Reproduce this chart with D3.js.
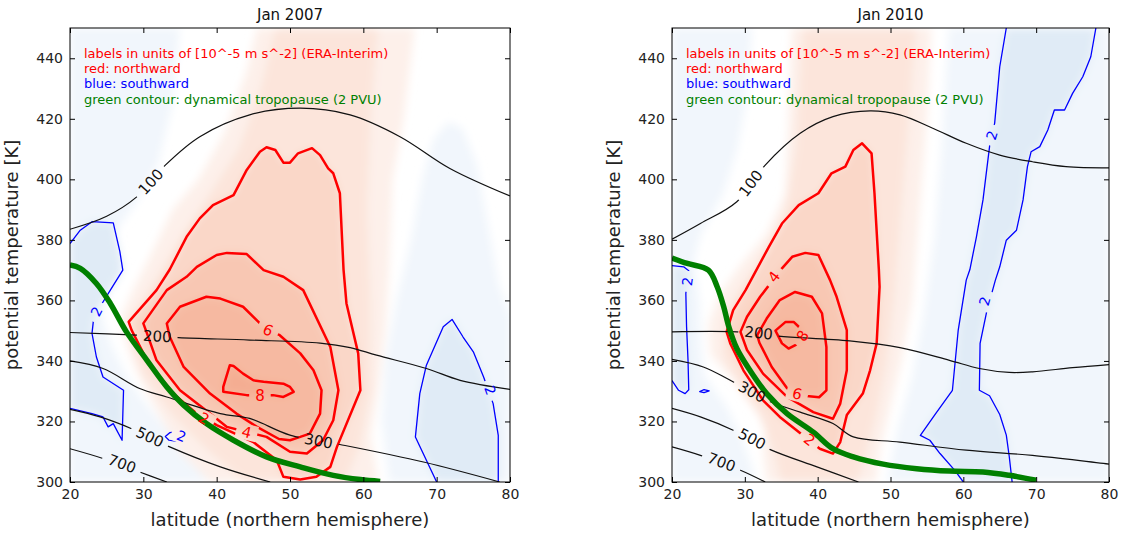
<!DOCTYPE html>
<html>
<head>
<meta charset="utf-8">
<script src="https://cdn.jsdelivr.net/npm/d3@7"></script>
<style>
  body { margin: 0; background: #fff; }
  svg { display: block; font-family: "DejaVu Sans", sans-serif; }
</style>
</head>
<body>
<svg id="chart" width="1126" height="533"></svg>
<script>
// ---------------------------------------------------------------
// Axes, titles and annotation text
// ---------------------------------------------------------------
const latTicks = [20, 30, 40, 50, 60, 70, 80];
const thetaTicks = [300, 320, 340, 360, 380, 400, 420, 440];
const latDomain = [20, 80];
const thetaDomain = [300, 450];
const titles = ["Jan 2007", "Jan 2010"];
const xLabel = "latitude (northern hemisphere)";
const yLabel = "potential temperature [K]";
const noteLines = [
  ["labels in units of [10^-5 m s^-2] (ERA-Interim)", "north"],
  ["red: northward", "north"],
  ["blue: southward", "south"],
  ["green contour: dynamical tropopause (2 PVU)", "tropo"]
];

// ---------------------------------------------------------------
// Jan 2007 — [latitude, theta] vertices
// ---------------------------------------------------------------
const tropopause2007 = [[20,371.7],[21.4,370.6],[23.6,365.6],[25.5,359.0],[27.7,349.6],[30.5,340.2],[33.2,331.4],[35.5,325.4],[38.6,319.3],[42.3,313.8],[46.8,308.3],[51.4,305.0],[55.9,302.2],[59.6,300.8],[62.3,300.2]];

// pressure isolines [hPa]
const isobar100_2007 = [[20,383.5],[25,387.8],[29.1,394.2],[33.0,404.7],[37.7,414.1],[44.5,421.3],[51.4,423.5],[58.2,421.3],[65,414.1],[71.8,403.6],[80,394.5]];
const isobar200_2007 = [[20,349.4],[29.1,348.5],[34.8,347.7],[44.5,346.9],[54.1,345.9],[58.2,344.4],[61.8,341.9],[68.6,337.5],[73.2,333.6],[80,330.6]];
const isobar300_2007 = [[20,340.0],[24.5,337.5],[29.5,330.9],[33.2,328.1],[40.5,322.6],[44.5,321.0],[50.0,315.5],[56.8,312.4],[68.2,306.6],[78.6,300]];
const isobar500_2007 = [[20,324.0],[24.1,321.5],[28.4,317.6],[33.6,311.6],[40.5,305.0],[47.3,300]];
const isobar700_2007 = [[20,311.0],[24.6,307.7],[29.5,303.3],[33.2,300]];

// northward contours (closed)
const north2_2007 = [[40.0,318.8],[45.0,313.2],[48.2,307.2],[49.1,301.7],[51.4,300.8],[53.6,301.7],[55.5,305.0],[56.4,311.6],[59.6,330.3],[59.3,342.5],[57.7,359.0],[57.3,370.2],[56.8,395.4],[55.9,402.0],[55.2,403.6],[54.1,408.0],[53.0,410.3],[51.1,408.6],[50.0,405.5],[49.1,405.5],[48.0,409.7],[46.8,410.6],[45.9,409.1],[44.1,403.1],[42.3,394.8],[39.5,391.5],[37.7,387.1],[35.9,381.0],[33.6,370.2],[31.8,363.4],[28.0,352.9],[28.4,350.2],[30.5,340.2],[34.1,329.2],[37.3,322.6]];
const north4_2007 = [[37.3,371.1],[40.0,375.0],[41.4,375.7],[44.1,375.3],[46.4,370.0],[49.1,367.8],[51.8,363.4],[55.5,344.6],[56.6,330.3],[55.9,320.4],[54.5,313.8],[52.3,309.4],[50.0,310.0],[46.8,314.9],[44.1,316.5],[41.4,318.2],[39.1,322.6],[35.0,330.3],[31.8,340.2],[30.5,349.1],[30.0,352.4],[33.2,363.4],[35.9,367.8]];
const north6_2007 = [[47.0,350.2],[48.6,348.5],[51.4,342.5],[53.2,336.9],[54.3,330.3],[54.1,322.6],[52.7,316.0],[51.4,314.9],[50.0,313.8],[48.5,314.2],[45.5,318.2],[42.7,322.6],[39.1,329.2],[35.5,338.0],[33.6,348.0],[33.2,352.4],[35.0,357.9],[38.6,361.2],[40.5,360.6],[43.6,357.9],[45.9,352.4]];
const north8_2007 = [[41.8,338.6],[40.9,331.4],[40.9,329.8],[44.1,328.7],[45.9,328.7],[47.7,328.7],[49.1,328.1],[50.5,329.8],[50.0,331.4],[49.1,332.5],[46.4,333.1],[45.0,333.6],[43.6,335.8],[42.3,338.3]];

// southward contours
const southWest_2007 = [[20,378.8],[21.4,383.2],[23.0,386.0],[25.9,385.6],[26.8,376.1],[27.2,370.0],[25.5,363.4],[24.1,357.9],[23.2,353.5],[23.0,349.1],[23.6,341.3],[24.5,334.7],[27.3,330.3],[27.1,313.8],[25.9,319.3],[25.2,318.2],[24.5,321.5],[23.0,322.6],[20,324.3]];
const southSmall_2007 = [[33.0,315.0],[33.5,313.8],[34.6,313.4],[35.8,314.0],[35.9,315.6],[34.8,316.6],[33.6,316.3]];
const southEast_2007 = [[70.0,300],[67.1,314.9],[67.7,329.2],[68.6,338.6],[70.9,351.3],[72.1,353.7],[73.6,347.9],[75.0,343.0],[76.4,334.7],[77.7,325.9],[78.4,315.4],[78.4,300]];

// outer edges of the weak shading
const northWeak_2007 = [[45.5,450],[67,450],[65.5,420],[64,400],[63.5,370],[63,350],[62,330],[61,315],[62,300],[39,300],[35,310],[31.5,325],[29,337],[27.5,347],[27,355],[28.5,363],[31,375],[34,390],[37.5,400],[41,415],[44,435]];
const northOne_2007 = [[48,450],[62,450],[61,420],[60.5,390],[61,360],[61,330],[59.5,312],[57.5,300],[44,300],[39,310],[34,322],[30,335],[28.5,345],[29,356],[31.5,366],[35,380],[39,395],[43,410],[46,430]];
const southWeakWest_2007 = [[20,300],[20,450],[35,450],[34,425],[32,405],[29,392],[26,382],[24.5,370],[24,358],[25.5,346],[27.5,336],[30,327],[33,318],[36,309],[39,300]];
const southWeakEast_2007 = [[63.5,300],[62.5,320],[63,340],[64.5,360],[66.5,380],[68,400],[69.5,413],[71.5,419],[73.5,417],[75.5,405],[77,385],[78.5,365],[80,355],[80,300]];

// ---------------------------------------------------------------
// Jan 2010
// ---------------------------------------------------------------
const tropopause2010 = [[20,374.0],[22.1,372.2],[25.0,370.0],[26.2,364.5],[27.1,357.9],[27.8,351.3],[28.9,344.1],[30.7,336.9],[33.0,329.2],[35.8,322.6],[39.4,316.5],[42.1,311.0],[44.9,308.3],[49.0,305.9],[53.6,304.4],[58.1,303.6],[62.7,303.3],[66.3,302.2],[70.0,300.6]];

const isobar100_2010 = [[20,380.2],[23.9,385.4],[28.9,392.6],[32.8,404.7],[37.6,415.2],[42.1,420.7],[47.2,422.6],[51.3,421.3],[55.8,416.9],[60.4,411.9],[65.0,408.0],[69.5,405.8],[74.1,404.2],[80,403.8]];
const isobar200_2010 = [[20,349.6],[28.9,349.6],[34.6,348.2],[44.4,346.6],[51.3,344.4],[58.1,340.2],[62.2,337.5],[66.3,336.2],[69.5,336.4],[75.0,337.8],[80,338.8]];
const isobar300_2010 = [[20,340.5],[24.3,338.0],[28,333.6],[33.5,326.5],[37.6,323.1],[42.1,319.3],[44.9,314.9],[51.3,313.2],[60.4,310.5],[69.5,308.8],[80,305.9]];
const isobar500_2010 = [[20,324.3],[23.9,321.5],[28.4,317.1],[33.5,310.7],[39.9,305.0],[45.6,300]];
const isobar700_2010 = [[20,311.6],[23.9,308.8],[29.4,303.9],[32.8,300]];

const north2_2010 = [[40.3,311.0],[42.1,309.4],[43.1,313.2],[44.0,322.1],[46.2,329.2],[47.2,336.9],[48.1,345.8],[48.5,364.5],[48.4,370.2],[47.8,395.4],[47.4,408.6],[46.1,411.9],[44.9,409.7],[43.8,404.2],[41.9,402.0],[40.1,395.4],[37.4,391.5],[35.1,385.4],[33.3,377.7],[30.1,363.4],[28.4,356.8],[27.5,349.6],[28.0,345.8],[29.8,336.9],[32.5,327.0],[34.8,321.5],[37.1,317.1]];
const north4_2010 = [[35.1,370.6],[32.1,361.2],[30.3,354.6],[29.4,349.6],[30.3,343.6],[32.5,335.8],[35.8,328.1],[39.4,323.1],[42.1,320.9],[43.1,325.9],[44.0,336.9],[44.0,350.2],[42.6,361.2],[41.7,366.7],[40.1,375.0],[38.3,375.7],[36.5,374.4]];
const north6_2010 = [[34.8,360.1],[36.9,362.8],[39.2,361.2],[40.6,355.7],[41.2,344.6],[41.2,330.3],[40.2,328.0],[38.5,328.4],[37.2,329.2],[35.8,331.0],[33.7,338.0],[32.0,346.0],[31.7,348.5],[33.0,354.0]];
const north8_2010 = [[34.2,350.0],[35.6,352.9],[36.7,352.9],[37.4,351.3],[37.9,348.5],[37.0,345.3],[36.0,344.1],[35.1,345.8]];

const southWest_2010 = [[20,371.5],[21.6,371.1],[22.3,369.8],[22.1,366.1],[21.9,362.3],[22.0,351.3],[22.2,340.2],[22.3,330.5],[21.8,329.2],[20.9,330.3],[20,333.5]];
const southSmall_2010 = [[23.8,329.9],[24.4,330.5],[25.1,330.1],[24.4,329.5]];
const southMid_2010 = [[65.9,450],[65.0,437.2],[64.3,418.5],[63.8,414.6],[63.6,410.8],[62.7,393.2],[61.8,381.0],[60.9,370.2],[60.4,366.7],[59.3,350.2],[58.5,330.3],[56.2,322.6],[54.1,315.4],[55.4,313.8],[56.8,309.4],[58.8,303.9],[60.0,300]];
const southEast_2010 = [[78.2,450],[77.5,440.5],[76.4,433.9],[75.0,428.4],[73.9,422.9],[72.5,422.9],[71.6,416.3],[70.5,410.8],[69.3,409.1],[68.8,404.2],[68.2,393.2],[67.3,383.2],[65.9,379.9],[65.0,371.1],[64.4,366.7],[63.2,356.2],[62.3,345.8],[62.2,330.3],[63.6,328.5],[65.0,322.3],[65.9,315.5],[66.3,308.5],[66.7,300]];

const northWeak_2010 = [[36.4,450],[55.6,450],[55,420],[54,390],[53,360],[51.5,340],[50,325],[48.5,310],[48,300],[33,300],[32.5,310],[33,322],[31,330],[27.5,336],[25.3,342],[25,352],[26.5,362],[29.5,372],[33,382],[35.5,395],[36,420]];
const northOne_2010 = [[38,450],[53.5,450],[52.5,420],[51.5,390],[50.5,360],[49.5,340],[48,322],[46.5,308],[45.5,300],[35,300],[34,310],[32,322],[29,332],[27,342],[27.2,354],[29.5,364],[32.5,374],[35.5,388],[37,410]];
const southWeakWest_2010 = [[20,300],[20,450],[31,450],[30.5,430],[29,410],[27,395],[24,382],[23,373],[23.8,360],[24,345],[24.5,335],[27.5,325],[29.5,315],[31,305],[31.5,300]];
const southWeakEast_2010 = [[49.5,300],[51,318],[53,335],[54.5,355],[56,380],[57,410],[58,450],[80,450],[80,300]];

// ---------------------------------------------------------------
// label anchors [lat, theta] (placement of inline contour labels)
// ---------------------------------------------------------------
const anchors2007 = {
  isobar: {100: [31.0, 399.2], 200: [31.9, 348.2], 300: [53.9, 313.6], 500: [30.9, 314.9], 700: [27.1, 306.1]},
  north: {2: [38.3, 321.0], 4: [44.1, 316.5], 6: [47.0, 350.2], 8: [45.9, 328.7]},
  south: {west: [23.6, 356.3], small: [35.2, 315.2], east: [77.3, 330.3]}
};
const anchors2010 = {
  isobar: {100: [30.8, 398.7], 200: [31.9, 349.3], 300: [31.0, 329.8], 500: [31.0, 314.3], 700: [26.8, 306.6]},
  north: {2: [38.9, 314.0], 4: [34.0, 367.8], 6: [37.2, 329.2], 8: [37.9, 348.3]},
  south: {west: [22.1, 366.3], mid: [63.9, 414.6], east: [62.9, 359.8]}
};

const panels = [
  {
    id: "p07", title: titles[0], left: 70, width: 440, anchors: anchors2007,
    tropopause: tropopause2007,
    isobars: [[100, isobar100_2007], [200, isobar200_2007], [300, isobar300_2007], [500, isobar500_2007], [700, isobar700_2007]],
    north: [[2, north2_2007], [4, north4_2007], [6, north6_2007], [8, north8_2007]],
    south: [["west", 2, southWest_2007, false], ["small", 2, southSmall_2007, true], ["east", 2, southEast_2007, false]],
    shading: [
      [-0.6, southWeakWest_2007], [-0.6, southWeakEast_2007],
      [-2, southWest_2007], [-2, southEast_2007],
      [0.5, northWeak_2007], [1, northOne_2007],
      [2, north2_2007], [4, north4_2007], [6, north6_2007], [8, north8_2007]
    ]
  },
  {
    id: "p10", title: titles[1], left: 672, width: 437, anchors: anchors2010,
    tropopause: tropopause2010,
    isobars: [[100, isobar100_2010], [200, isobar200_2010], [300, isobar300_2010], [500, isobar500_2010], [700, isobar700_2010]],
    north: [[2, north2_2010], [4, north4_2010], [6, north6_2010], [8, north8_2010]],
    south: [["west", 2, southWest_2010, false], ["small", 2, southSmall_2010, true], ["mid", 2, southMid_2010, false], ["east", 2, southEast_2010, false]],
    shading: [
      [-0.6, southWeakWest_2010], [-0.6, southWeakEast_2010],
      [-2, southWest_2010], [-2, southMid_2010.concat(southEast_2010.slice().reverse())],
      [0.5, northWeak_2010], [1, northOne_2010],
      [2, north2_2010], [4, north4_2010], [6, north6_2010], [8, north8_2010]
    ]
  }
];

// ---------------------------------------------------------------
// drawing
// ---------------------------------------------------------------
const svg = d3.select("#chart");
const defs = svg.append("defs");
defs.append("filter").attr("id", "soften")
  .attr("x", "-10%").attr("y", "-10%").attr("width", "120%").attr("height", "120%")
  .append("feGaussianBlur").attr("stdDeviation", 4);

const shadeColor = d3.scaleLinear()
  .domain([-2, -0.6, 0, 0.5, 1, 2, 4, 6, 8])
  .range(["#e0ebf6", "#f1f6fc", "#ffffff", "#fdf0ea", "#fce5db", "#fad7c8", "#f8c7b3", "#f6b9a1", "#f4ad92"])
  .clamp(true);

const colors = { north: "#ff0000", south: "#0000ff", tropo: "#008000", isobar: "#111111" };
const PLOT_TOP = 28, PLOT_H = 454;

function segmentAngle(pts, px, py, closed) {
  let best = Infinity, ang = 0;
  const n = pts.length;
  for (let i = 0; i < (closed ? n : n - 1); i++) {
    const a = pts[i], b = pts[(i + 1) % n];
    const dx = b[0] - a[0], dy = b[1] - a[1];
    const L = dx * dx + dy * dy || 1;
    let t = ((px - a[0]) * dx + (py - a[1]) * dy) / L;
    t = Math.max(0, Math.min(1, t));
    const d = Math.hypot(px - (a[0] + t * dx), py - (a[1] + t * dy));
    if (d < best) { best = d; ang = Math.atan2(dy, dx) * 180 / Math.PI; }
  }
  if (ang > 90) ang -= 180;
  if (ang < -90) ang += 180;
  return ang;
}

panels.forEach(p => {
  const w = p.width, h = PLOT_H;
  const x = d3.scaleLinear().domain(latDomain).range([0, w]);
  const y = d3.scaleLinear().domain(thetaDomain).range([h, 0]);
  const toPx = d => [x(d[0]), y(d[1])];
  const g = svg.append("g").attr("transform", `translate(${p.left},${PLOT_TOP})`);

  defs.append("clipPath").attr("id", "clip-" + p.id)
    .append("rect").attr("width", w).attr("height", h);

  const lineOpen = d3.line().x(d => x(d[0])).y(d => y(d[1]));
  const lineClosed = d3.line().x(d => x(d[0])).y(d => y(d[1])).curve(d3.curveLinearClosed);
  const lineSmooth = d3.line().x(d => x(d[0])).y(d => y(d[1])).curve(d3.curveCatmullRom.alpha(0.5));

  const plot = g.append("g").attr("clip-path", `url(#clip-${p.id})`);

  // filled shading
  const shade = plot.append("g").attr("filter", "url(#soften)");
  p.shading.forEach(([level, ring]) => {
    shade.append("path").attr("d", lineClosed(ring)).attr("fill", shadeColor(level));
  });

  // contour groups (each masked where its labels sit)
  const groups = {};
  ["north", "south", "isobar"].forEach(k => {
    const maskId = `mask-${p.id}-${k}`;
    const mask = defs.append("mask").attr("id", maskId)
      .attr("maskUnits", "userSpaceOnUse")
      .attr("x", -20).attr("y", -20).attr("width", w + 40).attr("height", h + 40);
    mask.append("rect").attr("x", -20).attr("y", -20).attr("width", w + 40).attr("height", h + 40).attr("fill", "#fff");
    groups[k] = { mask, lines: plot.append("g").attr("mask", `url(#${maskId})`) };
  });

  p.north.forEach(([level, pts]) => {
    groups.north.lines.append("path").attr("d", lineClosed(pts))
      .attr("fill", "none").attr("stroke", colors.north).attr("stroke-width", 2.5).attr("stroke-linejoin", "round");
  });
  p.south.forEach(([name, level, pts, closed]) => {
    groups.south.lines.append("path").attr("d", (closed ? lineClosed : lineOpen)(pts))
      .attr("fill", "none").attr("stroke", colors.south).attr("stroke-width", 1.3).attr("stroke-linejoin", "round");
  });
  p.isobars.forEach(([value, pts]) => {
    groups.isobar.lines.append("path").attr("d", lineSmooth(pts))
      .attr("fill", "none").attr("stroke", colors.isobar).attr("stroke-width", 1.2);
  });

  // dynamical tropopause
  plot.append("path").attr("d", lineSmooth(p.tropopause))
    .attr("fill", "none").attr("stroke", colors.tropo).attr("stroke-width", 5.5).attr("stroke-linecap", "butt");

  // inline labels
  const labelLayer = g.append("g");
  function addLabel(kind, text, anchor, pts, closed, size) {
    const [lx, ly] = toPx(anchor);
    const ang = segmentAngle(pts.map(toPx), lx, ly, closed);
    const tf = `translate(${lx},${ly}) rotate(${ang})`;
    const t = labelLayer.append("text").attr("transform", tf)
      .attr("text-anchor", "middle").attr("dy", "0.36em")
      .attr("font-size", size).attr("fill", colors[kind]).text(text);
    const len = t.node().getComputedTextLength();
    const gw = len + 12, gh = size * 1.05;
    groups[kind].mask.append("rect").attr("transform", tf)
      .attr("x", -gw / 2).attr("y", -gh / 2).attr("width", gw).attr("height", gh).attr("fill", "#000");
  }
  p.north.forEach(([level, pts]) => addLabel("north", String(level), p.anchors.north[level], pts, true, 15));
  p.south.forEach(([name, level, pts, closed]) => {
    if (p.anchors.south[name]) addLabel("south", String(level), p.anchors.south[name], pts, closed, 14);
  });
  p.isobars.forEach(([value, pts]) => addLabel("isobar", String(value), p.anchors.isobar[value], pts, false, 15));

  // axes with inward ticks on all sides
  const styleAxis = sel => {
    sel.select(".domain").remove();
    sel.attr("font-size", 14).attr("font-family", "DejaVu Sans, sans-serif");
    sel.selectAll("text").attr("fill", "#222");
  };
  g.append("g").attr("transform", `translate(0,${h})`)
    .call(d3.axisBottom(x).tickValues(latTicks).tickSizeInner(-5).tickSizeOuter(0).tickPadding(7)).call(styleAxis);
  g.append("g")
    .call(d3.axisTop(x).tickValues(latTicks).tickSizeInner(-5).tickSizeOuter(0).tickFormat("")).call(styleAxis);
  g.append("g")
    .call(d3.axisLeft(y).tickValues(thetaTicks).tickSizeInner(-5).tickSizeOuter(0).tickPadding(7)).call(styleAxis);
  g.append("g").attr("transform", `translate(${w},0)`)
    .call(d3.axisRight(y).tickValues(thetaTicks).tickSizeInner(-5).tickSizeOuter(0).tickFormat("")).call(styleAxis);

  g.append("rect").attr("width", w).attr("height", h)
    .attr("fill", "none").attr("stroke", "#000").attr("stroke-width", 1);

  // annotation block
  noteLines.forEach(([text, kind], i) => {
    g.append("text").attr("x", 14).attr("y", 30 + i * 15.2)
      .attr("font-size", 13).attr("fill", colors[kind]).text(text);
  });

  // title and axis labels
  g.append("text").attr("x", w / 2).attr("y", -8).attr("text-anchor", "middle")
    .attr("font-size", 15).attr("fill", "#111").text(p.title);
  g.append("text").attr("x", w / 2).attr("y", h + 44).attr("text-anchor", "middle")
    .attr("font-size", 18).attr("fill", "#222").text(xLabel);
  g.append("text").attr("transform", `translate(-52,${h / 2}) rotate(-90)`).attr("text-anchor", "middle")
    .attr("font-size", 18).attr("fill", "#222").text(yLabel);
});
</script>
</body>
</html>
